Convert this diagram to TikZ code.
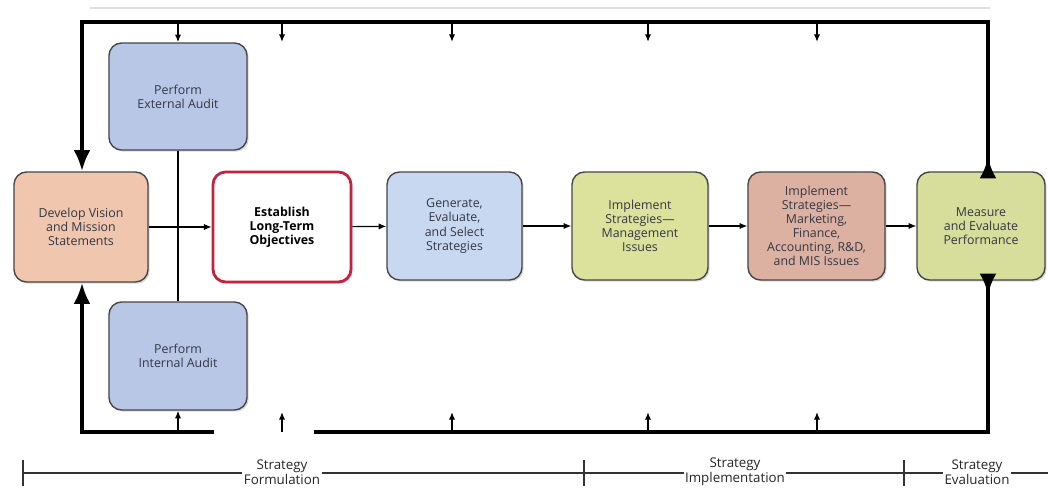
\documentclass[tikz,border=0pt]{standalone}
\usepackage{fontspec}
\setmainfont{Open Sans}
\usetikzlibrary{arrows.meta,positioning,shadows}

\definecolor{peach}{HTML}{F0C6AE}
\definecolor{audit}{HTML}{B9C7E7}
\definecolor{paleblue}{HTML}{C9D8F1}
\definecolor{olive}{HTML}{DCE29C}
\definecolor{rose}{HTML}{DDB1A1}
\definecolor{objred}{HTML}{C4233F}
\definecolor{ink}{HTML}{333844}

\begin{document}
\begin{tikzpicture}[x=0.025cm,y=-0.025cm,>={Latex[length=5.5pt,width=4.5pt]},
  box/.style={draw=gray!55!black, line width=1pt, rounded corners=9pt, align=center,
    inner sep=2pt, font=\fontsize{8.8}{10}\selectfont, text=ink,
    drop shadow={shadow xshift=1.2pt, shadow yshift=-1.2pt, opacity=.3}},
  loop/.style={line width=2.8pt},
  bigtip/.style={-{Latex[length=15pt,width=12pt]}},
  phase/.style={fill=white, inner sep=1pt, align=center, font=\fontsize{9.5}{11}\selectfont, text=black!85}]
  \useasboundingbox (0,0) rectangle (1048,490);

  %% boxes
  \node[box, fill=peach, minimum width=3.35cm, minimum height=2.75cm] (vision) at (81,227)
    {Develop Vision\\and Mission\\Statements};
  \node[box, fill=white, draw=objred, line width=2pt, font=\fontsize{8.8}{10}\selectfont\bfseries, text=black,
    minimum width=3.45cm, minimum height=2.75cm] (objectives) at (282,227)
    {Establish\\Long-Term\\Objectives};
  \node[box, fill=paleblue, minimum width=3.375cm, minimum height=2.7cm] (generate) at (454.5,226)
    {Generate,\\Evaluate,\\and Select\\Strategies};
  \node[box, fill=olive, minimum width=3.4cm, minimum height=2.7cm] (mgmt) at (640,226)
    {Implement\\Strategies---\\Management\\Issues};
  \node[box, fill=rose, minimum width=3.425cm, minimum height=2.7cm] (mkt) at (816.5,226)
    {Implement\\Strategies---\\Marketing,\\Finance,\\Accounting, R\&D,\\and MIS Issues};
  \node[box, fill=olive!95!gray, minimum width=3.2cm, minimum height=2.7cm] (measure) at (981,226)
    {Measure\\and Evaluate\\Performance};
  \node[box, fill=audit, minimum width=3.45cm, minimum height=2.675cm] (external) at (178,96.5)
    {Perform\\External Audit};
  \node[box, fill=audit, minimum width=3.45cm, minimum height=2.7cm] (internal) at (178,356)
    {Perform\\Internal Audit};

  %% feedback loop
  \coordinate (tl) at (82,22);
  \coordinate (tr) at (988,22);
  \coordinate (bl) at (82,432);
  \coordinate (br) at (988,432);
  \coordinate (gapl) at (214,432);
  \coordinate (gapr) at (314,432);
  \draw[gray!25, line width=1pt] (90,8) -- (990,8);
  \draw[loop, bigtip] (measure.north -| tr) -- (tr) -- (tl) -- (tl |- vision.north);
  \draw[loop, bigtip] (measure.north -| tr) -- ++(0,-14);
  \draw[loop, bigtip] (gapl) -- (bl) -- (bl |- vision.south);
  \draw[loop] (measure.south -| br) -- (br) -- (gapr);
  \draw[loop, bigtip] (measure.south -| br) -- ++(0,14);

  \draw[->, line width=1pt] (tl -| external.north) -- (external.north);
  \draw[->, line width=1pt] (bl -| internal.south) -- (internal.south);
  \foreach \x in {282,452,648,817} {
    \draw[->, line width=1pt] (\x,22) -- (\x,42);
    \draw[->, line width=1pt] (\x,432) -- (\x,412);
  }

  %% main flow
  \draw[line width=.8pt] (external) -- (internal);
  \draw[->, line width=.8pt] (vision) -- (objectives);
  \draw[->, line width=.8pt] (objectives) -- (generate);
  \draw[->, line width=.8pt] (generate) -- (mgmt);
  \draw[->, line width=.8pt] (mgmt) -- (mkt);
  \draw[->, line width=.8pt] (mkt) -- (measure);

  %% stages
  \draw[line width=1pt, black!80] (23,473) -- (1048,473);
  \foreach \x in {23,584,904}
    \draw[line width=1.2pt, black!80] (\x,460) -- (\x,486);
  \node[phase] (formulation) at (282,472) {Strategy\\Formulation};
  \node[phase] (implementation) at (735,472) {Strategy\\Implementation};
  \node[phase] (evaluation) at (977,472) {Strategy\\Evaluation};
\end{tikzpicture}
\end{document}
